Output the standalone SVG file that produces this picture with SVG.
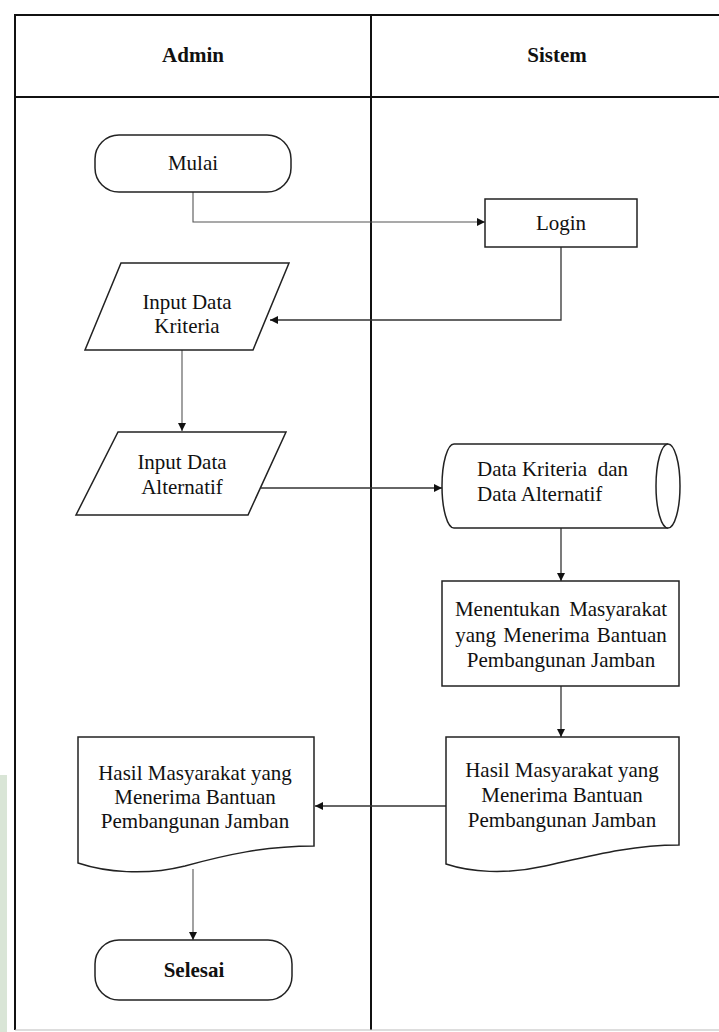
<svg xmlns="http://www.w3.org/2000/svg" width="719" height="1032" viewBox="0 0 719 1032">
  <style>
    .lane { fill: none; stroke: #111; stroke-width: 2; }
    .shape { fill: #fff; stroke: #222; stroke-width: 1.5; }
    .conn { fill: none; stroke: #333; stroke-width: 1.3; }
    .thin { stroke: #555; stroke-width: 1.1; }
    .t { font-family: "Liberation Serif", "Times New Roman", serif; font-size: 21px; fill: #111; }
    .c { text-anchor: middle; }
    .h { font-weight: bold; }
  </style>
  <defs>
    <marker id="arrow" viewBox="0 0 10 10" refX="10" refY="5" markerWidth="8" markerHeight="8" markerUnits="userSpaceOnUse" orient="auto">
      <path d="M0,0 L10,5 L0,10 Z" fill="#111"/>
    </marker>
  </defs>

  <rect width="719" height="1032" fill="#fff"/>
  <!-- page-edge tint at lower left -->
  <rect x="0" y="775" width="7" height="257" fill="#d9e5d6"/>

  <!-- swimlane frame -->
  <g id="lanes">
    <path class="lane" d="M15,1030 V15 H740"/>
    <line class="lane" x1="15" y1="97" x2="740" y2="97"/>
    <line class="lane" x1="371" y1="15" x2="371" y2="1030"/>
    <line x1="15" y1="1030" x2="719" y2="1030" stroke="#bbb" stroke-width="1"/>
    <text class="t c h" x="193" y="62">Admin</text>
    <text class="t c h" x="557" y="62">Sistem</text>
  </g>

  <!-- connectors -->
  <g id="connectors">
    <path class="conn thin" d="M193,192 V222 H485" marker-end="url(#arrow)"/>
    <path class="conn" d="M561,247 V320 H270" marker-end="url(#arrow)"/>
    <path class="conn thin" d="M182,350 V431" marker-end="url(#arrow)"/>
    <path class="conn" d="M261,488 H442" marker-end="url(#arrow)"/>
    <path class="conn" d="M561,528 V581" marker-end="url(#arrow)"/>
    <path class="conn" d="M561,686 V737" marker-end="url(#arrow)"/>
    <path class="conn" d="M446,806 H315" marker-end="url(#arrow)"/>
    <path class="conn thin" d="M193,869 V940" marker-end="url(#arrow)"/>
  </g>

  <g id="mulai">
    <rect class="shape" x="95" y="135" width="196" height="57" rx="24" ry="24"/>
    <text class="t c" x="193" y="170">Mulai</text>
  </g>

  <g id="login">
    <rect class="shape" x="485" y="199" width="152" height="48"/>
    <text class="t c" x="561" y="230">Login</text>
  </g>

  <g id="input-kriteria">
    <polygon class="shape" points="121,263 289,263 253,350 85,350"/>
    <text class="t c" x="187" y="309">Input Data</text>
    <text class="t c" x="187" y="333">Kriteria</text>
  </g>

  <g id="input-alternatif">
    <polygon class="shape" points="118,432 286,432 248,515 76,515"/>
    <text class="t c" x="182" y="469">Input Data</text>
    <text class="t c" x="182" y="494">Alternatif</text>
  </g>

  <g id="data-store">
    <path class="shape" d="M454,444 H668 A12,42 0 0 1 668,528 H454 A12,42 0 0 1 454,444 Z"/>
    <path class="shape" d="M668,444 A12,42 0 0 0 668,528" fill="none"/>
    <text class="t" x="477" y="476" xml:space="preserve">Data Kriteria  dan</text>
    <text class="t" x="477" y="501">Data Alternatif</text>
  </g>

  <g id="menentukan">
    <rect class="shape" x="442" y="581" width="237" height="105"/>
    <text class="t c" x="561" y="616" word-spacing="4">Menentukan Masyarakat</text>
    <text class="t c" x="561" y="642" word-spacing="2">yang Menerima Bantuan</text>
    <text class="t c" x="561" y="667">Pembangunan Jamban</text>
  </g>

  <g id="hasil-sistem">
    <path class="shape" d="M446,737 H679 V845 C630,845 590,856 545,866 C505,875 470,872 446,864 Z"/>
    <text class="t c" x="562" y="777">Hasil Masyarakat yang</text>
    <text class="t c" x="562" y="802">Menerima Bantuan</text>
    <text class="t c" x="562" y="827">Pembangunan Jamban</text>
  </g>

  <g id="hasil-admin">
    <path class="shape" d="M78,737 H314 V846 C265,846 225,855 185,866 C145,876 105,872 78,863 Z"/>
    <text class="t c" x="195" y="780">Hasil Masyarakat yang</text>
    <text class="t c" x="195" y="804">Menerima Bantuan</text>
    <text class="t c" x="195" y="828">Pembangunan Jamban</text>
  </g>

  <g id="selesai">
    <rect class="shape" x="95" y="940" width="197" height="60" rx="24" ry="24"/>
    <text class="t c h" x="194" y="977">Selesai</text>
  </g>
</svg>
